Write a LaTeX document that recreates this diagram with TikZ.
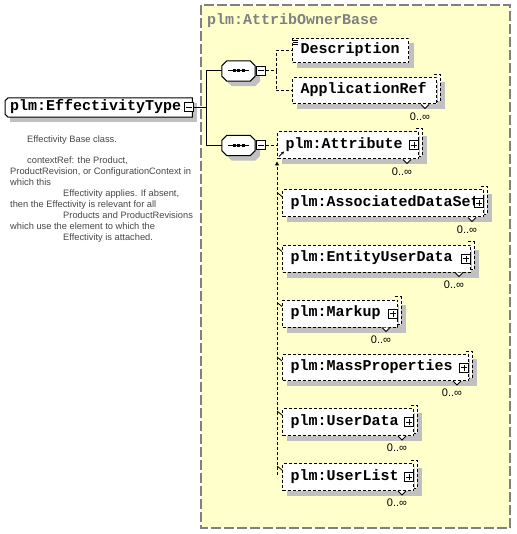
\documentclass[tikz,border=0pt]{standalone}
\usepackage{fontspec}
\setmainfont{Liberation Sans}
\newfontfamily\elemfont{Liberation Mono}
\usetikzlibrary{arrows.meta}

\definecolor{typebg}{RGB}{255,255,204}
\definecolor{typeframe}{RGB}{128,128,128}
\definecolor{shadowgray}{RGB}{192,192,192}
\definecolor{annotgray}{RGB}{70,70,70}

\pgfdeclarelayer{frame}
\pgfdeclarelayer{shadow}
\pgfdeclarelayer{shape}
\pgfsetlayers{frame,shadow,shape,main}

\tikzset{
  elemtext/.style={font=\elemfont\bfseries\fontsize{15}{15}\selectfont,
    inner xsep=8pt,inner ysep=0pt,text height=9pt,text depth=3pt,align=left,
    execute at begin node={\hyphenpenalty=10000}},
  elem/.style={elemtext,draw,fill=white,line width=1pt},
  optelem/.style={elem,dash pattern=on 3pt off 2pt},
  seqbox/.style={minimum width=33pt,minimum height=20pt,inner sep=0pt},
  pmbox/.style={draw,fill=white,line width=1pt,minimum size=9pt,inner sep=0pt},
  minusbox/.style={pmbox,path picture={
      \draw[line width=1pt] ([xshift=1.5pt]path picture bounding box.west) -- ([xshift=-1.5pt]path picture bounding box.east);}},
  plusbox/.style={pmbox,path picture={
      \draw[line width=1pt] ([xshift=1.5pt]path picture bounding box.west) -- ([xshift=-1.5pt]path picture bounding box.east)
        ([yshift=1.5pt]path picture bounding box.south) -- ([yshift=-1.5pt]path picture bounding box.north);}},
  conn/.style={line width=1pt},
  optline/.style={line width=1pt,dash pattern=on 3pt off 2pt},
  card/.style={font=\fontsize{11}{11}\selectfont,inner sep=0pt},
  annot/.style={font=\fontsize{9.3}{10.9}\selectfont,text=annotgray,align=left,inner sep=0pt},
  basename/.style={font=\elemfont\bfseries\fontsize{15}{15}\selectfont,text=typeframe,inner sep=0pt}
}

% grey shadow under a box
\newcommand{\boxshadow}[2][5]{%
  \begin{pgfonlayer}{shadow}
    \fill[shadowgray] ([shift={(5,5)}]#2.north west) rectangle ([shift={(#1,5)}]#2.south east);
  \end{pgfonlayer}}

% octagon of a sequence compositor
\newcommand{\seqshape}[1]{%
  \begin{pgfonlayer}{shadow}
    \fill[shadowgray] ([shift={(10,5)}]#1.north west) -- ([shift={(0,5)}]#1.north east) -- ([shift={(5,10)}]#1.north east)
      -- ([shift={(5,0)}]#1.south east) -- ([shift={(0,5)}]#1.south east) -- ([shift={(10,5)}]#1.south west)
      -- ([shift={(5,0)}]#1.south west) -- ([shift={(5,10)}]#1.north west) -- cycle;
  \end{pgfonlayer}
  \begin{pgfonlayer}{shape}
    \filldraw[fill=white,line width=1pt] ([shift={(5,0)}]#1.north west) -- ([shift={(-5,0)}]#1.north east) -- ([shift={(0,5)}]#1.north east)
      -- ([shift={(0,-5)}]#1.south east) -- ([shift={(-5,0)}]#1.south east) -- ([shift={(5,0)}]#1.south west)
      -- ([shift={(0,-5)}]#1.south west) -- ([shift={(0,5)}]#1.north west) -- cycle;
    \draw[line width=1pt] ([xshift=6pt]#1.west) -- ([xshift=-6pt]#1.east);
    \fill ([xshift=-4.5pt]#1.center) +(-1.5,-1.5) rectangle +(1.5,1.5);
    \fill (#1.center) +(-1.5,-1.5) rectangle +(1.5,1.5);
    \fill ([xshift=4.5pt]#1.center) +(-1.5,-1.5) rectangle +(1.5,1.5);
  \end{pgfonlayer}}

% back corner, notch and occurrence of a repeated element
\newcommand{\multiple}[1]{%
  \boxshadow[8]{#1}
  \fill[white] ([xshift=0.5pt,yshift=3pt]#1.north east) rectangle ([xshift=3pt,yshift=3pt]#1.south east);
  \draw[optline] ([xshift=-3pt,yshift=3pt]#1.north east) -- ([xshift=3pt,yshift=3pt]#1.north east)
    -- ([xshift=3pt,yshift=3pt]#1.south east) -- ([yshift=3pt]#1.south east);
  \filldraw[fill=white,line width=0.8pt] ([xshift=-16pt]#1.south east) -- ([xshift=-12pt,yshift=-4pt]#1.south east)
    -- ([xshift=-8pt]#1.south east);
  \node[card] (#1card) at ([xshift=-17pt,yshift=-12pt]#1.south east) {0..∞};
}

\begin{document}
\begin{tikzpicture}[x=1pt,y=-1pt] %plm:EffectivityType
    \useasboundingbox (0,0) rectangle (516,534);

    % base type
    \begin{pgfonlayer}{frame}
        \draw[typeframe,fill=typebg,line width=1.3pt,dash pattern=on 10pt off 3pt] (201,5) rectangle (510,528);
    \end{pgfonlayer}
    \node[basename,anchor=base west] (basetype) at (207,25) {plm:AttribOwnerBase};

    % the element and its annotation
    \node[elemtext,anchor=west,inner xsep=5pt,text width=177pt,minimum height=19pt] (efftype) at (5,107.5) {plm:EffectivityType};
    \boxshadow{efftype}
    \begin{pgfonlayer}{shape}
        \filldraw[fill=white,line width=1pt] ([xshift=3pt]efftype.north west) -- (efftype.north east) -- (efftype.south east)
            -- ([xshift=3pt]efftype.south west) -- ([yshift=3pt]efftype.south west) -- ([yshift=-3pt]efftype.north west) -- cycle;
    \end{pgfonlayer}
    \node[minusbox] (effminus) at (189,107.5) {};
    \node[annot,anchor=north west] (effdoc) at (10,136) {%
        \hspace*{17pt}Effectivity Base class.\\[10.1pt]
        \hspace*{17pt}contextRef: the Product,\\
        ProductRevision, or ConfigurationContext in\\
        which this\\
        \hspace*{53pt}Effectivity applies. If absent,\\
        then the Effectivity is relevant for all\\
        \hspace*{53pt}Products and ProductRevisions\\
        which use the element to which the\\
        \hspace*{53pt}Effectivity is attached.};

    % sequences
    \coordinate (trunk) at (206,107.5);
    \node[seqbox] (seq1) at (238.5,71) {};
    \seqshape{seq1}
    \node[minusbox,anchor=west] (seq1minus) at ([xshift=1pt]seq1.east) {};
    \node[seqbox] (seq2) at (238.5,145.5) {};
    \seqshape{seq2}
    \node[minusbox,anchor=west] (seq2minus) at ([xshift=1pt]seq2.east) {};
    \draw[conn] (effminus.east) -- (trunk);
    \draw[conn] (trunk) |- (seq1.west);
    \draw[conn] (trunk) |- (seq2.west);

    % first sequence
    \node[optelem,anchor=west,text width=100pt,minimum height=24pt] (desc) at (292,51) {Description};
    \boxshadow{desc}
    \node[optelem,anchor=west,text width=128pt,minimum height=26pt] (appref) at (292,91) {ApplicationRef};
    \multiple{appref}
    \draw[line width=0.8pt] ([xshift=1pt,yshift=-1.5pt]desc.north west) -- ++(5,0);
    \draw[line width=0.8pt] ([xshift=1pt,yshift=-3.5pt]desc.north west) -- ++(5,0);
    \draw[line width=0.8pt] ([xshift=1pt,yshift=-5.5pt]desc.north west) -- ++(5,0);
    \coordinate (fork1) at (276,71);
    \draw[optline] (seq1minus.east) -- (fork1);
    \draw[optline] (fork1) |- (desc.west);
    \draw[optline] (fork1) |- (appref.west);

    % second sequence
    \node[optelem,anchor=west,text width=125pt,minimum height=27pt] (attr) at (277,145.5) {plm:Attribute};
    \node[optelem,anchor=west,text width=185pt,minimum height=27pt] (adset) at (282,203.5) {plm:AssociatedDataSet};
    \node[optelem,anchor=west,text width=172pt,minimum height=27pt] (euser) at (282,258.5) {plm:EntityUserData};
    \node[optelem,anchor=west,text width=99pt,minimum height=27pt] (markup) at (282,313.5) {plm:Markup};
    \node[optelem,anchor=west,text width=170pt,minimum height=26pt] (mass) at (282,367.5) {plm:MassProperties};
    \node[optelem,anchor=west,text width=115pt,minimum height=27pt] (udata) at (282,422) {plm:UserData};
    \node[optelem,anchor=west,text width=115pt,minimum height=27pt] (ulist) at (282,477) {plm:UserList};
    \multiple{attr}
    \multiple{adset}
    \multiple{euser}
    \multiple{markup}
    \multiple{mass}
    \multiple{udata}
    \multiple{ulist}
    \node[plusbox,anchor=east] (attrplus) at (attr.east) {};
    \node[plusbox,anchor=east] (adsetplus) at (adset.east) {};
    \node[plusbox,anchor=east] (euserplus) at (euser.east) {};
    \node[plusbox,anchor=east] (markupplus) at (markup.east) {};
    \node[plusbox,anchor=east] (massplus) at (mass.east) {};
    \node[plusbox,anchor=east] (udataplus) at (udata.east) {};
    \node[plusbox,anchor=east] (ulistplus) at (ulist.east) {};

    \draw[optline] (seq2minus.east) -- (seq2minus.east -| attr.west);
    \coordinate (subtop) at ([yshift=-2pt]attr.south west);
    \coordinate (subend) at (277,475);
    \draw[optline,-{Triangle[length=4pt,width=4pt]}] (subend) -- (subtop);
    \draw[line width=0.8pt,-{Stealth[length=3pt,width=3pt]}] ([xshift=2pt,yshift=3pt]attr.south west) -- ([xshift=7pt,yshift=8pt]attr.south west);
    \draw[line width=0.8pt] ([xshift=-5pt,yshift=-3pt]adset.north west) -- ([yshift=-7pt]adset.north west);
    \draw[line width=0.8pt] ([xshift=-5pt,yshift=-3pt]euser.north west) -- ([yshift=-7pt]euser.north west);
    \draw[line width=0.8pt] ([xshift=-5pt,yshift=-3pt]markup.north west) -- ([yshift=-7pt]markup.north west);
    \draw[line width=0.8pt] ([xshift=-5pt,yshift=-3pt]mass.north west) -- ([yshift=-7pt]mass.north west);
    \draw[line width=0.8pt] ([xshift=-5pt,yshift=-3pt]udata.north west) -- ([yshift=-7pt]udata.north west);
    \draw[line width=0.8pt] ([xshift=-5pt,yshift=-3pt]ulist.north west) -- ([yshift=-7pt]ulist.north west);
\end{tikzpicture}
\end{document}
